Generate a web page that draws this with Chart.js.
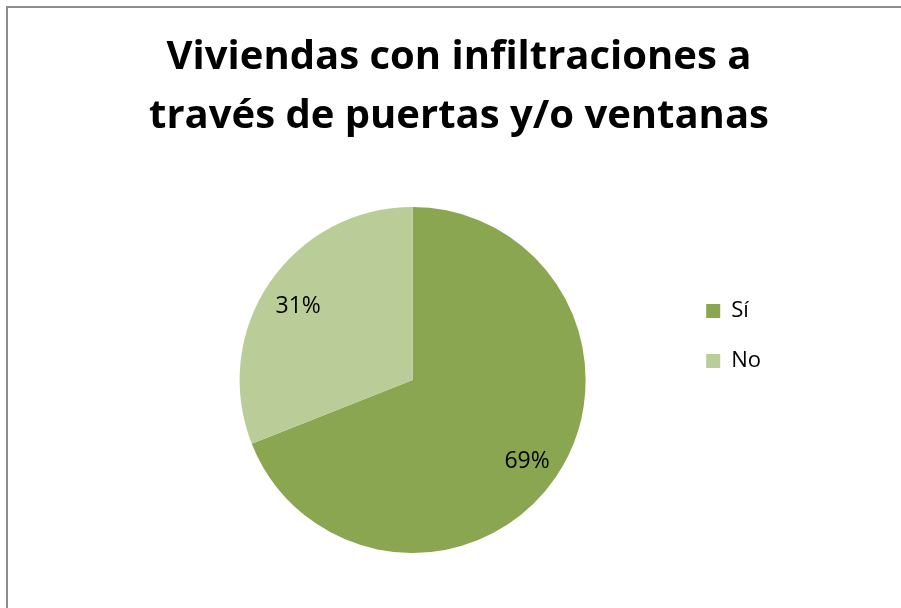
<!DOCTYPE html>
<html>
<head>
<meta charset="utf-8">
<script src="https://cdn.jsdelivr.net/npm/chart.js@4"></script>
<style>
  html, body { margin: 0; padding: 0; background: #fff; overflow: hidden; }
  canvas { display: block; }
</style>
</head>
<body>
<canvas id="pie-chart" width="901" height="608"></canvas>
<script>
// Chart data
const titleLines = ["Viviendas con infiltraciones a", "través de puertas y/o ventanas"];
const categories = ["Sí", "No"];
const percentages = [69, 31];

// Color scheme
const colors = {
  si: "#8ba651",
  no: "#bacd98",
  frame: "#8c8c8c",
  text: "#000000",
};

const labelFont = "'Open Sans', Lato, sans-serif";

// Frame around the chart (only top and left edges fall inside the window)
const framePlugin = {
  id: "frame",
  beforeDraw(chart) {
    const ctx = chart.ctx;
    ctx.save();
    ctx.fillStyle = "#ffffff";
    ctx.fillRect(0, 0, chart.width, chart.height);
    ctx.strokeStyle = colors.frame;
    ctx.lineWidth = 2;
    ctx.beginPath();
    ctx.moveTo(7, chart.height);
    ctx.lineTo(7, 7);
    ctx.lineTo(chart.width, 7);
    ctx.stroke();
    ctx.restore();
  },
};

// Percentage labels inside slices
const percentLabels = {
  id: "percentLabels",
  afterDatasetsDraw(chart) {
    const ctx = chart.ctx;
    const meta = chart.getDatasetMeta(0);
    const values = chart.data.datasets[0].data;
    const total = values.reduce((a, b) => a + b, 0);
    ctx.save();
    ctx.font = "23px " + labelFont;
    ctx.fillStyle = colors.text;
    ctx.textAlign = "center";
    ctx.textBaseline = "middle";
    meta.data.forEach((arc, i) => {
      const p = arc.getProps(["x", "y", "startAngle", "endAngle", "outerRadius"], true);
      const mid = (p.startAngle + p.endAngle) / 2;
      const r = p.outerRadius * 0.8;
      const pct = Math.round((values[i] / total) * 100) + "%";
      ctx.fillText(pct, p.x + Math.cos(mid) * r, p.y + Math.sin(mid) * r + 4);
    });
    ctx.restore();
  },
};

const ctx = document.getElementById("pie-chart").getContext("2d");

new Chart(ctx, {
  type: "pie",
  data: {
    labels: categories,
    datasets: [
      {
        data: percentages,
        backgroundColor: [colors.si, colors.no],
        borderWidth: 0,
      },
    ],
  },
  options: {
    responsive: false,
    animation: false,
    layout: {
      padding: { top: 0, left: 147, right: 130, bottom: 55 },
    },
    plugins: {
      title: {
        display: true,
        text: titleLines,
        color: colors.text,
        font: { family: labelFont, size: 40, weight: "bold", lineHeight: "59px" },
        padding: { top: 28, bottom: 61 },
      },
      legend: {
        display: true,
        position: "right",
        align: "start",
        fullSize: false,
        title: {
          display: true,
          text: " ",
          font: { size: 10, lineHeight: 1.2 },
          padding: { top: 53, bottom: 0 },
        },
        labels: {
          boxWidth: 14,
          boxHeight: 14,
          padding: 28,
          color: colors.text,
          font: { family: labelFont, size: 22 },
        },
      },
      tooltip: { enabled: false },
    },
  },
  plugins: [framePlugin, percentLabels],
});
</script>
</body>
</html>
